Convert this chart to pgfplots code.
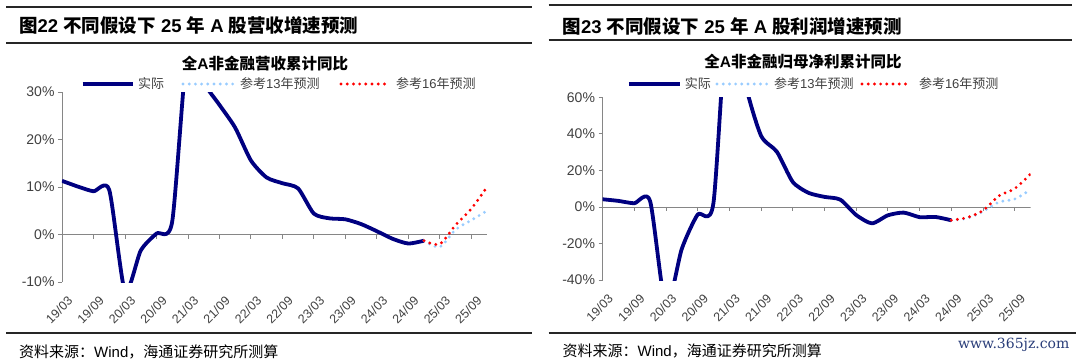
\documentclass[border=0pt]{standalone}
\usepackage{pgfplots}
\pgfplotsset{compat=1.18}
\usepackage{pgfplotstable}
\usepackage{fontspec}
\setmainfont{Liberation Sans}
\newfontfamily\cjk{Noto Sans CJK SC}
\newfontfamily\wm{DejaVu Serif}
\newcommand{\C}[1]{{\cjk #1}}
\definecolor{navyline}{RGB}{0,0,128}
\definecolor{lblue}{RGB}{153,204,255}
\definecolor{axgray}{RGB}{134,134,134}
\definecolor{txt}{RGB}{64,64,64}
\definecolor{wmcol}{RGB}{40,60,120}

% left panel: revenue growth (%)
\pgfplotstableread{
i v
0 11.3
1 10.1
2 9.1
3 9.4
4 -12.0
5 -3.4
6 0.2
7 2.7
8 40
9 32
10 27.3
11 22.5
12 15.6
13 12.0
14 10.8
15 9.7
16 4.4
17 3.4
18 3.2
19 2.2
20 0.7
21 -0.9
22 -1.9
23 -1.3
}\revact
\pgfplotstableread{
i v
23 -1.3
24 -2.6
25 1.0
26 3.0
27 5.0
}\revblue
\pgfplotstableread{
i v
23 -1.3
24 -2.0
25 2.0
26 5.4
27 10.0
}\revred

% right panel: net profit growth (%)
\pgfplotstableread{
i v
0 4.2
1 3.3
2 2.0
3 3.3
4 -55
5 -23
6 -4.2
7 2.2
8 120
9 68
10 39
11 30.2
12 13.7
13 7.7
14 5.5
15 4.0
16 -4.4
17 -9.0
18 -4.6
19 -3.1
20 -5.6
21 -5.5
22 -7.3
}\proact
\pgfplotstableread{
i v
22 -7.3
23 -6.2
24 -2.5
25 2.6
26 4.3
27 9.5
}\problue
\pgfplotstableread{
i v
22 -7.3
23 -5.8
24 -2.0
25 6.0
26 10.0
27 18.0
}\prored

\pgfplotsset{
  panel/.style={
    scale only axis,
    axis lines=left,
    axis line style={-, axgray, line width=0.8pt},
    x axis line style={draw=none},
    xtick style={draw=none},
    ytick style={axgray, line width=0.8pt},
    tick align=outside,
    major tick length=4pt,
    xmin=0, xmax=27,
    xtick={0,2,...,26},
    xticklabels={19/03,19/09,20/03,20/09,21/03,21/09,22/03,22/09,23/03,23/09,24/03,24/09,25/03,25/09},
    xticklabel style={rotate=45, anchor=north east, font=\fontsize{12.5}{14}\selectfont, text=txt, inner sep=1pt, yshift=-9pt, xshift=-2pt},
    yticklabel style={font=\fontsize{14}{16}\selectfont, text=txt},
    clip=true,
  },
  act/.style={navyline, line width=3.8pt, smooth, /tikz/tension=0.4, line join=round},
  dots/.style={line width=3.2pt, line cap=round, dash pattern=on 0pt off 6.2pt, smooth, /tikz/tension=0.5},
}

\begin{document}
\begin{tikzpicture}
\useasboundingbox (0,0) rectangle (1080pt,-359pt);

% ---------- left panel frame ----------
\draw[line width=2pt, black!85] (6pt,-7.3pt) -- (532pt,-7.3pt);
\node[anchor=west, inner sep=0] at (19pt,-25pt) {\fontsize{18.5}{21}\selectfont\bfseries \C{图}22 \C{不同假设下} 25 \C{年} A \C{股营收增速预测}};
\draw[line width=2pt, black!85] (6pt,-42.7pt) -- (532pt,-42.7pt);
\node[inner sep=0] at (265pt,-63.3pt) {\fontsize{15.5}{18}\selectfont\bfseries \C{全}A\C{非金融营收累计同比}};
\draw[line width=2pt, black!85] (6pt,-333pt) -- (532pt,-333pt);
\node[anchor=west, inner sep=0] at (19pt,-351.7pt) {\fontsize{15}{17}\selectfont \C{资料来源：}Wind\C{，海通证券研究所测算}};

% left legend
\draw[navyline, line width=3.8pt] (82.6pt,-84pt) -- (132.6pt,-84pt);
\node[anchor=west, inner sep=0, text=txt] at (138pt,-84pt) {\fontsize{13}{15}\selectfont\C{实际}};
\draw[lblue, line width=3.2pt, line cap=round, dash pattern=on 0pt off 6.2pt] (183pt,-84pt) -- (236pt,-84pt);
\node[anchor=west, inner sep=0, text=txt] at (240pt,-84pt) {\fontsize{13}{15}\selectfont\C{参考}13\C{年预测}};
\draw[red, line width=3.2pt, line cap=round, dash pattern=on 0pt off 6.2pt] (341pt,-84pt) -- (386pt,-84pt);
\node[anchor=west, inner sep=0, text=txt] at (396pt,-84pt) {\fontsize{13}{15}\selectfont\C{参考}16\C{年预测}};

\begin{axis}[panel,
  at={(62pt,-282pt)}, anchor=south west,
  width=425pt, height=190pt,
  ymin=-10, ymax=30,
  ytick={-10,0,10,20,30},
  yticklabels={-10\%,0\%,10\%,20\%,30\%},
]
\addplot[axgray, line width=0.8pt] coordinates {(0,0) (27,0)};
\addplot[axgray, line width=0.8pt, ycomb] coordinates {(2,-0.85) (4,-0.85) (6,-0.85) (8,-0.85) (10,-0.85) (12,-0.85) (14,-0.85) (16,-0.85) (18,-0.85) (20,-0.85) (22,-0.85) (24,-0.85) (26,-0.85)};
\addplot[act] table[x=i, y=v] {\revact};
\addplot[dots, lblue] table[x=i, y=v] {\revblue};
\addplot[dots, red] table[x=i, y=v] {\revred};
\end{axis}

% ---------- right panel frame ----------
\draw[line width=2pt, black!85] (548.6pt,-5pt) -- (1072pt,-5pt);
\node[anchor=west, inner sep=0] at (562.4pt,-26.7pt) {\fontsize{18.5}{21}\selectfont\bfseries \C{图}23 \C{不同假设下} 25 \C{年} A \C{股利润增速预测}};
\draw[line width=2pt, black!85] (548.6pt,-40pt) -- (1072pt,-40pt);
\node[inner sep=0] at (803pt,-61.7pt) {\fontsize{15.5}{18}\selectfont\bfseries \C{全}A\C{非金融归母净利累计同比}};
\draw[line width=2pt, black!85] (548.6pt,-333pt) -- (1075.5pt,-333pt);
\node[anchor=west, inner sep=0] at (562.4pt,-351pt) {\fontsize{15}{17}\selectfont \C{资料来源：}Wind\C{，海通证券研究所测算}};
\node[anchor=west, inner sep=0, text=wmcol] at (958pt,-345pt) {\fontsize{14}{16}\selectfont\wm www.365jz.com};

% right legend
\draw[navyline, line width=3.8pt] (628.8pt,-84pt) -- (679.5pt,-84pt);
\node[anchor=west, inner sep=0, text=txt] at (684.6pt,-84pt) {\fontsize{13}{15}\selectfont\C{实际}};
\draw[lblue, line width=3.2pt, line cap=round, dash pattern=on 0pt off 6.2pt] (717pt,-84pt) -- (767pt,-84pt);
\node[anchor=west, inner sep=0, text=txt] at (774pt,-84pt) {\fontsize{13}{15}\selectfont\C{参考}13\C{年预测}};
\draw[red, line width=3.2pt, line cap=round, dash pattern=on 0pt off 6.2pt] (862pt,-84pt) -- (907pt,-84pt);
\node[anchor=west, inner sep=0, text=txt] at (918.8pt,-84pt) {\fontsize{13}{15}\selectfont\C{参考}16\C{年预测}};

\begin{axis}[panel,
  at={(602.5pt,-280pt)}, anchor=south west,
  width=428pt, height=182.7pt,
  ymin=-40, ymax=60,
  ytick={-40,-20,0,20,40,60},
  yticklabels={-40\%,-20\%,0\%,20\%,40\%,60\%},
]
\addplot[axgray, line width=0.8pt] coordinates {(0,0) (27,0)};
\addplot[axgray, line width=0.8pt, ycomb] coordinates {(2,-2.2) (4,-2.2) (6,-2.2) (8,-2.2) (10,-2.2) (12,-2.2) (14,-2.2) (16,-2.2) (18,-2.2) (20,-2.2) (22,-2.2) (24,-2.2) (26,-2.2)};
\addplot[act] table[x=i, y=v] {\proact};
\addplot[dots, lblue] table[x=i, y=v] {\problue};
\addplot[dots, red] table[x=i, y=v] {\prored};
\end{axis}
\end{tikzpicture}
\end{document}
